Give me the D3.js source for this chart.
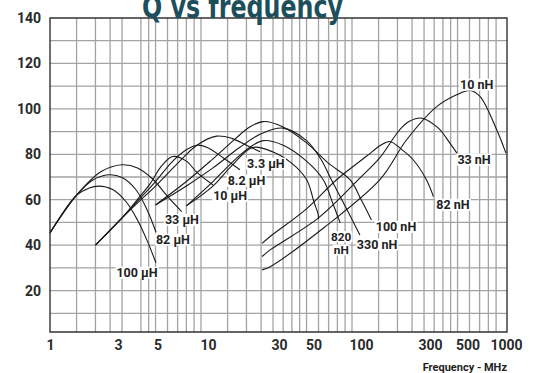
<!DOCTYPE html>
<html><head><meta charset="utf-8">
<script src="https://cdn.jsdelivr.net/npm/d3@7"></script>
<style>body{margin:0;background:#fff}svg{display:block}</style>
</head><body>
<svg id="chart" width="540" height="373"></svg>
<script>
// Axis ticks and grid values
const xTicks = [1, 3, 5, 10, 30, 50, 100, 300, 500, 1000];
const yTicks = [20, 40, 60, 80, 100, 120, 140];
const xGrid = [1.5, 2, 2.5, 3, 4, 4.5, 5, 6, 7, 8, 9, 10, 15, 20, 25, 30, 35, 40, 45, 50, 60, 70, 80, 90, 100,
  150, 200, 250, 300, 350, 400, 450, 500, 600, 700, 800, 900];
const yGrid = [10, 20, 30, 40, 50, 60, 70, 80, 90, 100, 110, 120, 130];

// Q curves: [frequency MHz, Q]
const q100uH = [[1,45.4],[1.5,62],[1.8,65],[2.1,66],[2.6,64.5],[3.2,59],[3.8,51],[4.4,42],[5.03,32.2]];
const q82uH  = [[1,45.4],[1.5,62],[1.9,68.5],[2.45,71],[3,69.8],[3.7,64.5],[4.4,55.5],[5.03,45.8]];
const q33uH  = [[1,45.4],[1.5,62],[2.2,72.5],[3,75.4],[3.8,74],[4.8,69],[6,61.5],[7.45,54.8]];
const q10uH  = [[2,40],[3,52],[4,62],[4.6,67],[5.5,75],[6.5,79],[8,77],[9.4,72],[12,66.5]];
const q8_2uH = [[2,40],[3,52],[4,61],[5,68],[6.5,77],[8,82],[9.4,84],[11,83],[14,78.5],[18.1,73.2]];
const q3_3uH = [[2,40],[3,52],[4,60],[5,66],[7,76],[9.4,84],[12.7,88],[16,87],[20,84],[24.6,81.1]];
const q100nH = [[5,57.7],[8,68],[12,78],[17,87],[21,92],[25.8,94.4],[35,92],[50,85],[70,76],[97,68.8],[115,60],[134.6,51.1]];
const q330nH = [[5,57.7],[8,66],[12,74],[18,83],[25,89],[35,91.5],[50,86],[62,78],[73,68.8],[92,56],[112.8,44.5]];
const q820nH = [[8,57.3],[12,68],[17,78],[21,83],[25.8,86],[35,84],[50,77],[64.5,68.8],[75,58],[83.5,49.8]];
const q470nH = [[8,57.3],[12,66],[16,75],[22,83],[30,81],[40,76],[50.1,68.8],[56,59],[59.8,53.3],[59.9,51.5]];
const q82nH  = [[25.4,40.8],[28.7,43.8],[50,56],[79,68.8],[124,79],[155,84],[178,85.6],[210,82.5],[254,77.6],[311,68.8],[346,61.4]];
const q33nH  = [[25.4,35],[28.7,37.9],[60,52],[110,68.8],[153,78.5],[190,87.5],[207,90.8],[240,94.5],[290,95.9],[373,91.5],[445,84.9],[495,80.5]];
const q10nH  = [[25.4,29.1],[28.7,30.5],[66,48],[153,68.8],[230,86.4],[364,101],[493,106.2],[604,108.1],[704,105.5],[908,90.8],[1046,80.5]];

const series = [
  {pts: q100uH}, {pts: q82uH}, {pts: q33uH},
  {pts: q10uH}, {pts: q8_2uH}, {pts: q3_3uH},
  {pts: q470nH}, {pts: q820nH}, {pts: q330nH}, {pts: q100nH},
  {pts: q82nH}, {pts: q33nH}, {pts: q10nH}
];

// Curve captions: text, where it sits [freq, Q], font size
const captions = [
  {text: "100 \u03bcH", at: [3.77, 27.8], size: 12.5},
  {text: "82 \u03bcH", at: [6.52, 42.3], size: 12.5},
  {text: "33 \u03bcH", at: [7.48, 51.1], size: 12.5},
  {text: "10 \u03bcH", at: [15.6, 61.7], size: 12.5},
  {text: "8.2 \u03bcH", at: [20.0, 68.3], size: 12.5},
  {text: "3.3 \u03bcH", at: [26.9, 75.8], size: 12.5},
  {text: "820", at: [84.6, 43.85], size: 11.8},
  {text: "nH", at: [84.9, 37.9], size: 11.8},
  {text: "330 nH", at: [146.5, 40.3], size: 12.5},
  {text: "100 nH", at: [195.6, 48.0], size: 12.5},
  {text: "82 nH", at: [466, 57.7], size: 12.5},
  {text: "33 nH", at: [643, 77.6], size: 12.5},
  {text: "10 nH", at: [670, 110.6], size: 12.5}
];

// tick-label nudges (px) along the frequency axis
const xLabelNudge = {1: 0, 3: -4, 5: 2, 10: 7, 30: 6, 50: 7, 100: 9, 300: 6, 500: 10, 1000: 3};

const svg = d3.select("#chart");
const x = d3.scaleLog().domain([1, 1000]).range([50, 503]);
const y = d3.scaleLinear().domain([0, 140]).range([336, 18]);
const plotL = x(1), plotR = 507, plotT = y(140), plotB = 332;

const font = "Roboto, 'DejaVu Sans', sans-serif";

// grid
const g = svg.append("g");
g.selectAll("line.v").data(xGrid).join("line")
  .attr("x1", d => x(d)).attr("x2", d => x(d))
  .attr("y1", plotT).attr("y2", plotB)
  .attr("stroke", "#a3a3a3").attr("stroke-width", 1.3);
g.selectAll("line.h").data(yGrid).join("line")
  .attr("x1", plotL).attr("x2", plotR)
  .attr("y1", d => y(d)).attr("y2", d => y(d))
  .attr("stroke", "#a3a3a3").attr("stroke-width", 1.3);

// frame
svg.append("path")
  .attr("d", `M${plotL},${plotT}H${plotR}V${plotB}H${plotL}Z`)
  .attr("fill", "none").attr("stroke", "#333").attr("stroke-width", 1.4);

// curves
const line = d3.line().x(d => x(d[0])).y(d => y(d[1])).curve(d3.curveCatmullRom.alpha(0.5));
svg.append("g").selectAll("path").data(series).join("path")
  .attr("d", d => line(d.pts))
  .attr("fill", "none").attr("stroke", "#1a1a1a").attr("stroke-width", 1.1);

// curve captions with white backing
const lg = svg.append("g");
captions.forEach(c => {
  const t = lg.append("text").attr("x", x(c.at[0])).attr("y", y(c.at[1])).attr("dy", "0.35em")
    .attr("text-anchor", "middle")
    .attr("font-family", font).attr("font-weight", 700).attr("font-size", c.size)
    .attr("fill", "#222").text(c.text);
  const b = t.node().getBBox();
  lg.insert("rect", () => t.node()).attr("x", b.x - 1).attr("y", b.y + 1.5).attr("width", b.width + 2).attr("height", b.height - 3)
    .attr("fill", "#fff");
});

// axes
const xAxis = d3.axisBottom(x).tickValues(xTicks).tickFormat(d3.format("d")).tickSize(0).tickPadding(8);
const xa = svg.append("g").attr("transform", `translate(0,${plotB})`).call(xAxis);
xa.selectAll("text").attr("dx", d => xLabelNudge[d] || 0);
const yAxis = d3.axisLeft(y).tickValues(yTicks).tickSize(0).tickPadding(9);
const ya = svg.append("g").attr("transform", `translate(${plotL},0)`).call(yAxis);
[xa, ya].forEach(a => {
  a.select(".domain").remove();
  a.selectAll("text").attr("font-family", font).attr("font-weight", 700).attr("font-size", 14).attr("fill", "#2a2a2a");
});

svg.append("text").attr("x", plotR).attr("y", 371).attr("text-anchor", "end")
  .attr("font-family", font).attr("font-weight", 700).attr("font-size", 11).attr("fill", "#222")
  .text("Frequency - MHz");

svg.append("text").attr("x", 142).attr("y", 18)
  .attr("font-family", "'DejaVu Sans Condensed', 'DejaVu Sans', sans-serif").attr("font-weight", 700)
  .attr("font-size", 32).attr("fill", "#1d4e5b")
  .attr("textLength", 201).attr("lengthAdjust", "spacingAndGlyphs")
  .text("Q vs frequency");
</script>
</body></html>
